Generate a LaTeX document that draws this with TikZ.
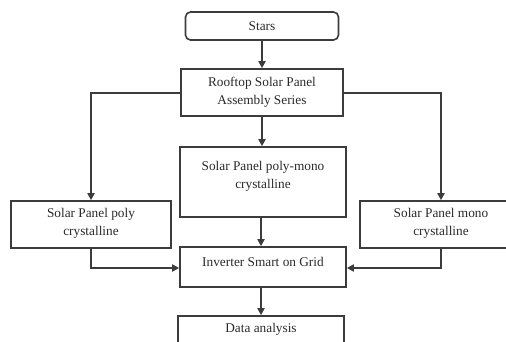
\documentclass[tikz,border=0pt]{standalone}
\usepackage{fontspec}
\setmainfont{Liberation Serif}
\usetikzlibrary{arrows.meta}
\definecolor{lc}{HTML}{3C3C3C}
\definecolor{tc}{HTML}{2A2A2A}
\begin{document}
\begin{tikzpicture}[x=1pt,y=-1pt,
  box/.style={draw=lc,line width=1.6pt,inner sep=0pt},
  txt/.style={text=tc,align=center,font=\fontsize{13.3}{18}\selectfont,inner sep=0pt},
  arr/.style={draw=lc,line width=2pt,-{Triangle[length=7pt,width=7pt]}}]
\useasboundingbox (0,0) rectangle (506,342);
\clip (0,0) rectangle (506,342);
\fill[white] (0,0) rectangle (506,342);
% boxes
\node[box,rounded corners=5pt,minimum width=153pt,minimum height=28pt] (stars) at (262,26) {};
\node[txt] (starst) at (262,26) {Stars};
\node[box,minimum width=162pt,minimum height=47pt] (roof) at (262,92.5) {};
\node[txt] (rooft) at (262,92.5) {Rooftop Solar Panel\\Assembly Series};
\node[box,minimum width=166pt,minimum height=70pt] (pm) at (263,182) {};
\node[txt] (pmt) at (263,176) {Solar Panel poly-mono\\crystalline};
\node[box,minimum width=160pt,minimum height=47pt] (poly) at (91,224.5) {};
\node[txt] (polyt) at (91,223.5) {Solar Panel poly\\crystalline};
\node[box,minimum width=162pt,minimum height=47pt] (mono) at (441,224.5) {};
\node[txt] (monot) at (441,223.5) {Solar Panel mono\\crystalline};
\node[box,minimum width=166pt,minimum height=40pt] (inv) at (263,267) {};
\node[txt] (invt) at (263,261.5) {Inverter Smart on Grid};
\node[box,minimum width=166pt,minimum height=36pt] (data) at (261,334) {};
\node[txt] (datat) at (261,329.5) {Data analysis};
% connectors
\draw[arr] (stars.south) -- (roof.north);
\draw[arr] (roof.south) -- (pm.north -| roof.south);
\draw[arr] (roof.west |- 0,93) -| (poly.north);
\draw[arr] (roof.east |- 0,93) -| (mono.north);
\draw[arr] (pm.south -| 261,0) -- (inv.north -| 261,0);
\draw[arr] (poly.south) |- (inv.west |- 0,268);
\draw[arr] (mono.south) |- (inv.east |- 0,268);
\draw[arr] (inv.south -| 261,0) -- (data.north -| 261,0);
\end{tikzpicture}
\end{document}
